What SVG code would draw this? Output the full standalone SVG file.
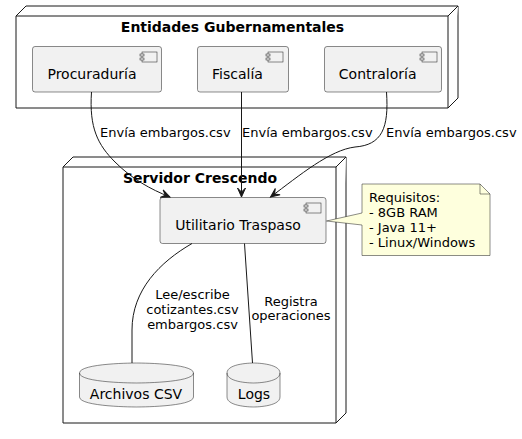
<svg xmlns="http://www.w3.org/2000/svg" width="522" height="439" viewBox="0 0 522 439">
<defs>
<style>
.node{fill:#FFFFFF;stroke:#181818;stroke-width:1}
.comp{fill:#F1F1F1;stroke:#181818;stroke-width:0.5}
.icon{fill:#F1F1F1;stroke:#181818;stroke-width:0.5}
.db{fill:#F1F1F1;stroke:#181818;stroke-width:0.5}
.note{fill:#FEFFDD;stroke:#181818;stroke-width:0.5}
.conn{fill:none;stroke:#181818;stroke-width:1}
text{font-family:"DejaVu Sans","Liberation Sans",sans-serif;fill:#000000}
.title{font-size:14px;font-weight:bold;text-anchor:middle}
.lbl{font-size:14px;text-anchor:middle}
.el{font-size:13px}
.elc{font-size:13px;text-anchor:middle}
</style>
<marker id="arr" viewBox="-10 -5 11 10" refX="0" refY="0" markerWidth="11" markerHeight="10" markerUnits="userSpaceOnUse" orient="auto" overflow="visible">
<path d="M0,0 L-9,-4 L-5,0 L-9,4 Z" fill="#181818" stroke="#181818" stroke-width="1"/>
</marker>
</defs>

<g id="entidades">
<path class="node" d="M16,16 L26,6 L458,6 L458,98 L448,108 L16,108 Z"/>
<path class="node" d="M448,108 L448,16 L458,6 M448,16 L16,16"/>
<text class="title" x="232.5" y="32">Entidades Gubernamentales</text>
</g>

<g id="procuraduria">
<rect class="comp" x="32.5" y="46.5" width="129" height="45.5" rx="2.5"/>
<rect class="icon" x="142" y="52" width="15" height="10"/>
<rect class="icon" x="140" y="54" width="4" height="2"/>
<rect class="icon" x="140" y="58" width="4" height="2"/>
<text class="lbl" x="92" y="79">Procuraduría</text>
</g>

<g id="fiscalia">
<rect class="comp" x="197.5" y="46.5" width="91" height="45.5" rx="2.5"/>
<rect class="icon" x="268" y="52" width="15" height="10"/>
<rect class="icon" x="266" y="54" width="4" height="2"/>
<rect class="icon" x="266" y="58" width="4" height="2"/>
<text class="lbl" x="237.5" y="79">Fiscalía</text>
</g>

<g id="contraloria">
<rect class="comp" x="324.5" y="46.5" width="117" height="45.5" rx="2.5"/>
<rect class="icon" x="422" y="52" width="15" height="10"/>
<rect class="icon" x="420" y="54" width="4" height="2"/>
<rect class="icon" x="420" y="58" width="4" height="2"/>
<text class="lbl" x="377.7" y="79">Contraloría</text>
</g>

<g id="servidor">
<path class="node" d="M63,167 L73,157 L346,157 L346,413 L336,423 L63,423 Z"/>
<path class="node" d="M336,423 L336,167 L346,157 M336,167 L63,167"/>
<text class="title" x="200" y="183">Servidor Crescendo</text>
</g>

<g id="utilitario">
<rect class="comp" x="160" y="197.5" width="166" height="46" rx="2.5"/>
<rect class="icon" x="306" y="203" width="15" height="10"/>
<rect class="icon" x="304" y="205" width="4" height="2"/>
<rect class="icon" x="304" y="209" width="4" height="2"/>
<text class="lbl" x="238" y="230">Utilitario Traspaso</text>
</g>

<g id="archivos">
<path class="db" d="M79.5,373 C79.5,363 136.5,363 136.5,363 C136.5,363 193.5,363 193.5,373 L193.5,397 C193.5,407 136.5,407 136.5,407 C136.5,407 79.5,407 79.5,397 Z"/>
<path class="db" d="M79.5,373 C79.5,383 136.5,383 136.5,383 C136.5,383 193.5,383 193.5,373" style="fill:none"/>
<text class="lbl" x="136" y="399">Archivos CSV</text>
</g>

<g id="logs">
<path class="db" d="M227,373 C227,363 253.5,363 253.5,363 C253.5,363 280,363 280,373 L280,397 C280,407 253.5,407 253.5,407 C253.5,407 227,407 227,397 Z"/>
<path class="db" d="M227,373 C227,383 253.5,383 253.5,383 C253.5,383 280,383 280,373" style="fill:none"/>
<text class="lbl" x="254" y="399">Logs</text>
</g>

<g id="nota">
<path class="note" d="M362,184 L480,184 L490,194 L490,255.5 L362,255.5 L362,225 L326.5,221 L362,213 Z"/>
<path class="note" d="M480,184 L480,194 L490,194" style="fill:none"/>
<text class="el" x="369" y="201.5">Requisitos:</text>
<text class="el" x="369" y="216.5">- 8GB RAM</text>
<text class="el" x="369" y="231.5">- Java 11+</text>
<text class="el" x="369" y="246.5">- Linux/Windows</text>
</g>

<g id="connectors">
<path class="conn" marker-end="url(#arr)" d="M91.5,92 C89,128 98,145 115,162 C132,179 150,189 170,197"/>
<path class="conn" marker-end="url(#arr)" d="M241.5,92 L241.5,197"/>
<path class="conn" marker-end="url(#arr)" d="M386.5,92 C389,128 382,145 355,147 C330,150 300,175 270.5,197"/>
<path class="conn" d="M192,243.5 C160,262 132,290 132,330 L132,363"/>
<path class="conn" d="M244.5,243.5 L252.5,363"/>
<text class="el" x="100" y="137">Envía embargos.csv</text>
<text class="el" x="242" y="137">Envía embargos.csv</text>
<text class="el" x="386" y="137">Envía embargos.csv</text>
<text class="elc" x="192.5" y="298.5">Lee/escribe</text>
<text class="elc" x="192.5" y="313.5">cotizantes.csv</text>
<text class="elc" x="192.5" y="328.5">embargos.csv</text>
<text class="elc" x="291" y="305.5">Registra</text>
<text class="elc" x="291" y="320">operaciones</text>
</g>
</svg>
